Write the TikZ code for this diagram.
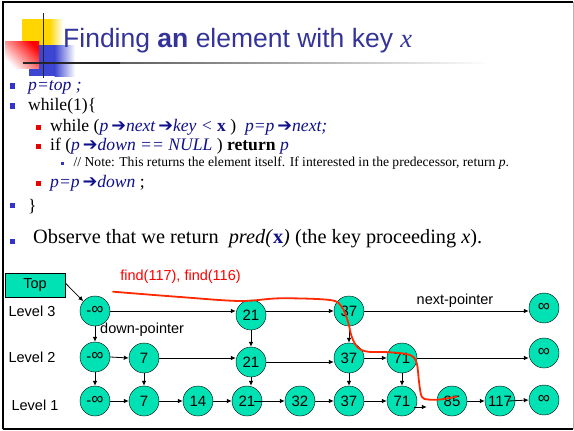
\documentclass[tikz,border=0pt]{standalone}
\usepackage{fontspec}
\setmainfont{Liberation Serif}
\setsansfont{Liberation Sans}
\newfontfamily\arrowfont{DejaVu Sans}
\usetikzlibrary{arrows.meta,calc}
\definecolor{nodecol}{RGB}{0,226,180}
\definecolor{titleblue}{RGB}{51,51,153}
\definecolor{codeblue}{RGB}{16,16,140}
\definecolor{bulblue}{RGB}{51,51,204}
\definecolor{bulred}{RGB}{235,0,0}
\definecolor{curvered}{RGB}{255,40,0}
\definecolor{decoyellow}{RGB}{255,214,0}
\definecolor{decoblue}{RGB}{60,70,210}
\newcommand\setfs[1]{\fontsize{#1}{#1}\selectfont}
\newcommand\cb[1]{\textcolor{codeblue}{\itshape #1}}
\newcommand\rarr{\textcolor{codeblue}{\arrowfont\char"2794}}
\newcommand\infsym{\raisebox{1.5pt}{\setfs{17}∞}}
\tikzset{
  nd/.style={circle, draw, fill=nodecol, minimum size=30pt, inner sep=0pt, font=\sffamily\setfs{15}},
  arr/.style={-{Latex[length=5pt,width=4.5pt]}, line width=0.8pt},
  txt/.style={anchor=base west, inner sep=0pt, font=\setfs{17.6}},
  lbl/.style={inner sep=0pt, font=\sffamily\setfs{14.5}},
  bula/.style={rectangle, fill=bulblue, minimum size=5.5pt, inner sep=0pt},
  bulb/.style={rectangle, fill=bulred, minimum size=5pt, inner sep=0pt},
  bulc/.style={rectangle, fill=bulblue, minimum size=3.2pt, inner sep=0pt},
}
\begin{document}
\begin{tikzpicture}[x=1pt,y=-1pt]
\useasboundingbox (0,0) rectangle (574,431);
% frame
\draw[line width=2pt] (3,429) -- (3,2) -- (573,2);
\draw[line width=2pt] (3,428.7) -- (573,428.7);
\draw[gray!60, line width=1pt] (573,2) -- (573,429);
% title decoration
\fill[decoyellow] (22,19) rectangle (50,45);
\shade[left color=decoyellow, right color=white] (49.5,19) rectangle (63,45);
\fill[decoblue] (29,45) rectangle (55,76);
\shade[left color=decoblue, right color=white] (54.5,45) rectangle (75,76);
\shade[top color=red, bottom color=white, shading angle=-45] (5,41) rectangle (39,68);
\shade[left color=black!80, right color=white] (23,62) rectangle (490,63.5);
\fill[black!85] (23,62) rectangle (120,63.5);
\draw[line width=1.5pt, black!85] (43.7,13) -- (43.7,78);
\node[anchor=base west, inner sep=0pt, text=titleblue, font=\sffamily\setfs{26.5}] (title) at (63,47)
  {Finding \textbf{an} element with key {\rmfamily\itshape x}};
% bullets
\node[bula] (b1) at (12.5,86) {};
\node[bula] (b2) at (12.5,106) {};
\node[bulb] (b3) at (38.5,127.5) {};
\node[bulb] (b4) at (38.5,146.5) {};
\node[bulc] (b5) at (62.5,163.5) {};
\node[bulb] (b6) at (38.5,183) {};
\node[bula] (b7) at (12.5,205.5) {};
\node[bula] (b8) at (12.5,241.5) {};
% code text
\node[txt] (t1) at (28,90.5) {\cb{p=top} \cb{;}};
\node[txt] (t2) at (28,110) {while(1)\{};
\node[txt] (t3) at (50,131.5) {while (\cb{p}\,\rarr\cb{next}\,\rarr\cb{key <} \textcolor{codeblue}{\textbf{x}} )\ \ \cb{p=p}\,\rarr\cb{next;}};
\node[txt] (t4) at (50,150.5) {if (\cb{p}\,\rarr\cb{down == NULL} ) \textbf{return} \cb{p}};
\node[txt, font=\setfs{13.6}] (t5) at (73.5,166.5) {// Note: This returns the element itself. If interested in the predecessor, return \textit{p}.};
\node[txt] (t6) at (50,187) {\cb{p=p}\,\rarr\cb{down} ;};
\node[txt] (t7) at (28,211.5) {\}};
\node[txt, font=\setfs{20.3}] (t8) at (33,243.5) {Observe that we return \ \textit{pred(}\textcolor{codeblue}{\textbf{x}}\textit{)} (the key proceeding \textit{x}).};
% diagram
\node[draw, fill=nodecol, minimum width=60pt, minimum height=24pt, inner sep=0pt, font=\sffamily\setfs{14.5}] (top) at (35,285) {Top};
\node[lbl] (lv3) at (32,311) {Level 3};
\node[lbl] (lv2) at (32,357) {Level 2};
\node[lbl] (lv1) at (35,405) {Level 1};
\node[lbl, text=red] (find) at (180.5,277) {find(117), find(116)};
\node[lbl, anchor=west] (down) at (100,330) {down-pointer};
\node[lbl] (next) at (455,301) {next-pointer};
% level 3
\node[nd] (m3) at (95,311) {-\infsym};
\node[nd] (a21) at (251,315) {21};
\node[nd] (a37) at (349,311) {37};
\node[nd] (i3) at (544,308) {\infsym};
% level 2
\node[nd] (m2) at (95,357) {-\infsym};
\node[nd] (b7n) at (144,358) {7};
\node[nd] (b21) at (251,362) {21};
\node[nd] (b37) at (349,358) {37};
\node[nd] (b71) at (402,358) {71};
\node[nd] (i2) at (544,353) {\infsym};
% level 1
\node[nd] (m1) at (95,401) {-\infsym};
\node[nd] (c7) at (144,401) {7};
\node[nd] (c14) at (198,401) {14};
\node[nd] (c21) at (247,401) {21};
\node[nd] (c32) at (300,401) {32};
\node[nd] (c37) at (349,401) {37};
\node[nd] (c71) at (402,401) {71};
\node[nd] (c85) at (452,401) {85};
\node[nd] (c117) at (500,401) {117};
\node[nd] (i1) at (544,400) {\infsym};
% arrows
\draw[arr] ([yshift=2pt]top.east) -- (m3.140);
\draw[arr] (m3.east) -- (m3.east -| a21.west);
\draw[arr] (a37.west -| a21.east) -- (a37.west);
\draw[arr] (a37.east) -- (a37.east -| i3.west);
\draw[arr] (m2.east) -- (b7n.west);
\draw[arr] (b7n.east) -- (b7n.east -| b21.west);
\draw[arr] (b21.east) -- (b21.east -| b37.west);
\draw[arr] (b37.east) -- (b71.west);
\draw[arr] (b71.east) -- (b71.east -| i2.west);
\draw[arr] (m1.east) -- (c7.west);
\draw[arr] (c7.east) -- (c14.west);
\draw[arr] (c14.east) -- (c21.west);
\draw[arr] ([xshift=-8pt]c21.east) -- (c32.west);
\draw[arr] (c32.east) -- (c37.west);
\draw[arr] (c37.east) -- (c71.west);
\draw[arr] ([yshift=-6pt,xshift=-3pt]c71.east) -- ([yshift=-6pt,xshift=-10pt]c85.west);
\draw[arr] (c85.east) -- (c117.west);
\draw[arr] ([xshift=-7pt]c117.east) -- (i1.west);
\draw[arr] (m3.south) -- (m2.north);
\draw[arr] (m2.south) -- (m1.north);
\draw[arr] (b7n.south) -- (c7.north);
\draw[arr] (a21.south) -- (b21.north);
\draw[arr] (b21.south) -- (c21.north -| b21.south);
\draw[arr] (a37.south) -- (b37.north);
\draw[arr] (b37.south) -- (c37.north);
\draw[arr] (b71.south) -- (c71.north);
% search path
\draw[curvered, line width=1.8pt, line cap=round] plot[smooth, tension=0.55] coordinates {
 (113,291.7) (180,297) (240,301) (280,298.3) (330,300) (341.7,306.7) (348,321.7) (351.7,336.7)
 (358,347.7) (368,351.7) (390,352.3) (410,355) (416.7,363) (419,381.7) (421.7,396.7) (428,399.5)
 (440,399.5) (456.7,396.7)};
\end{tikzpicture}
\end{document}
